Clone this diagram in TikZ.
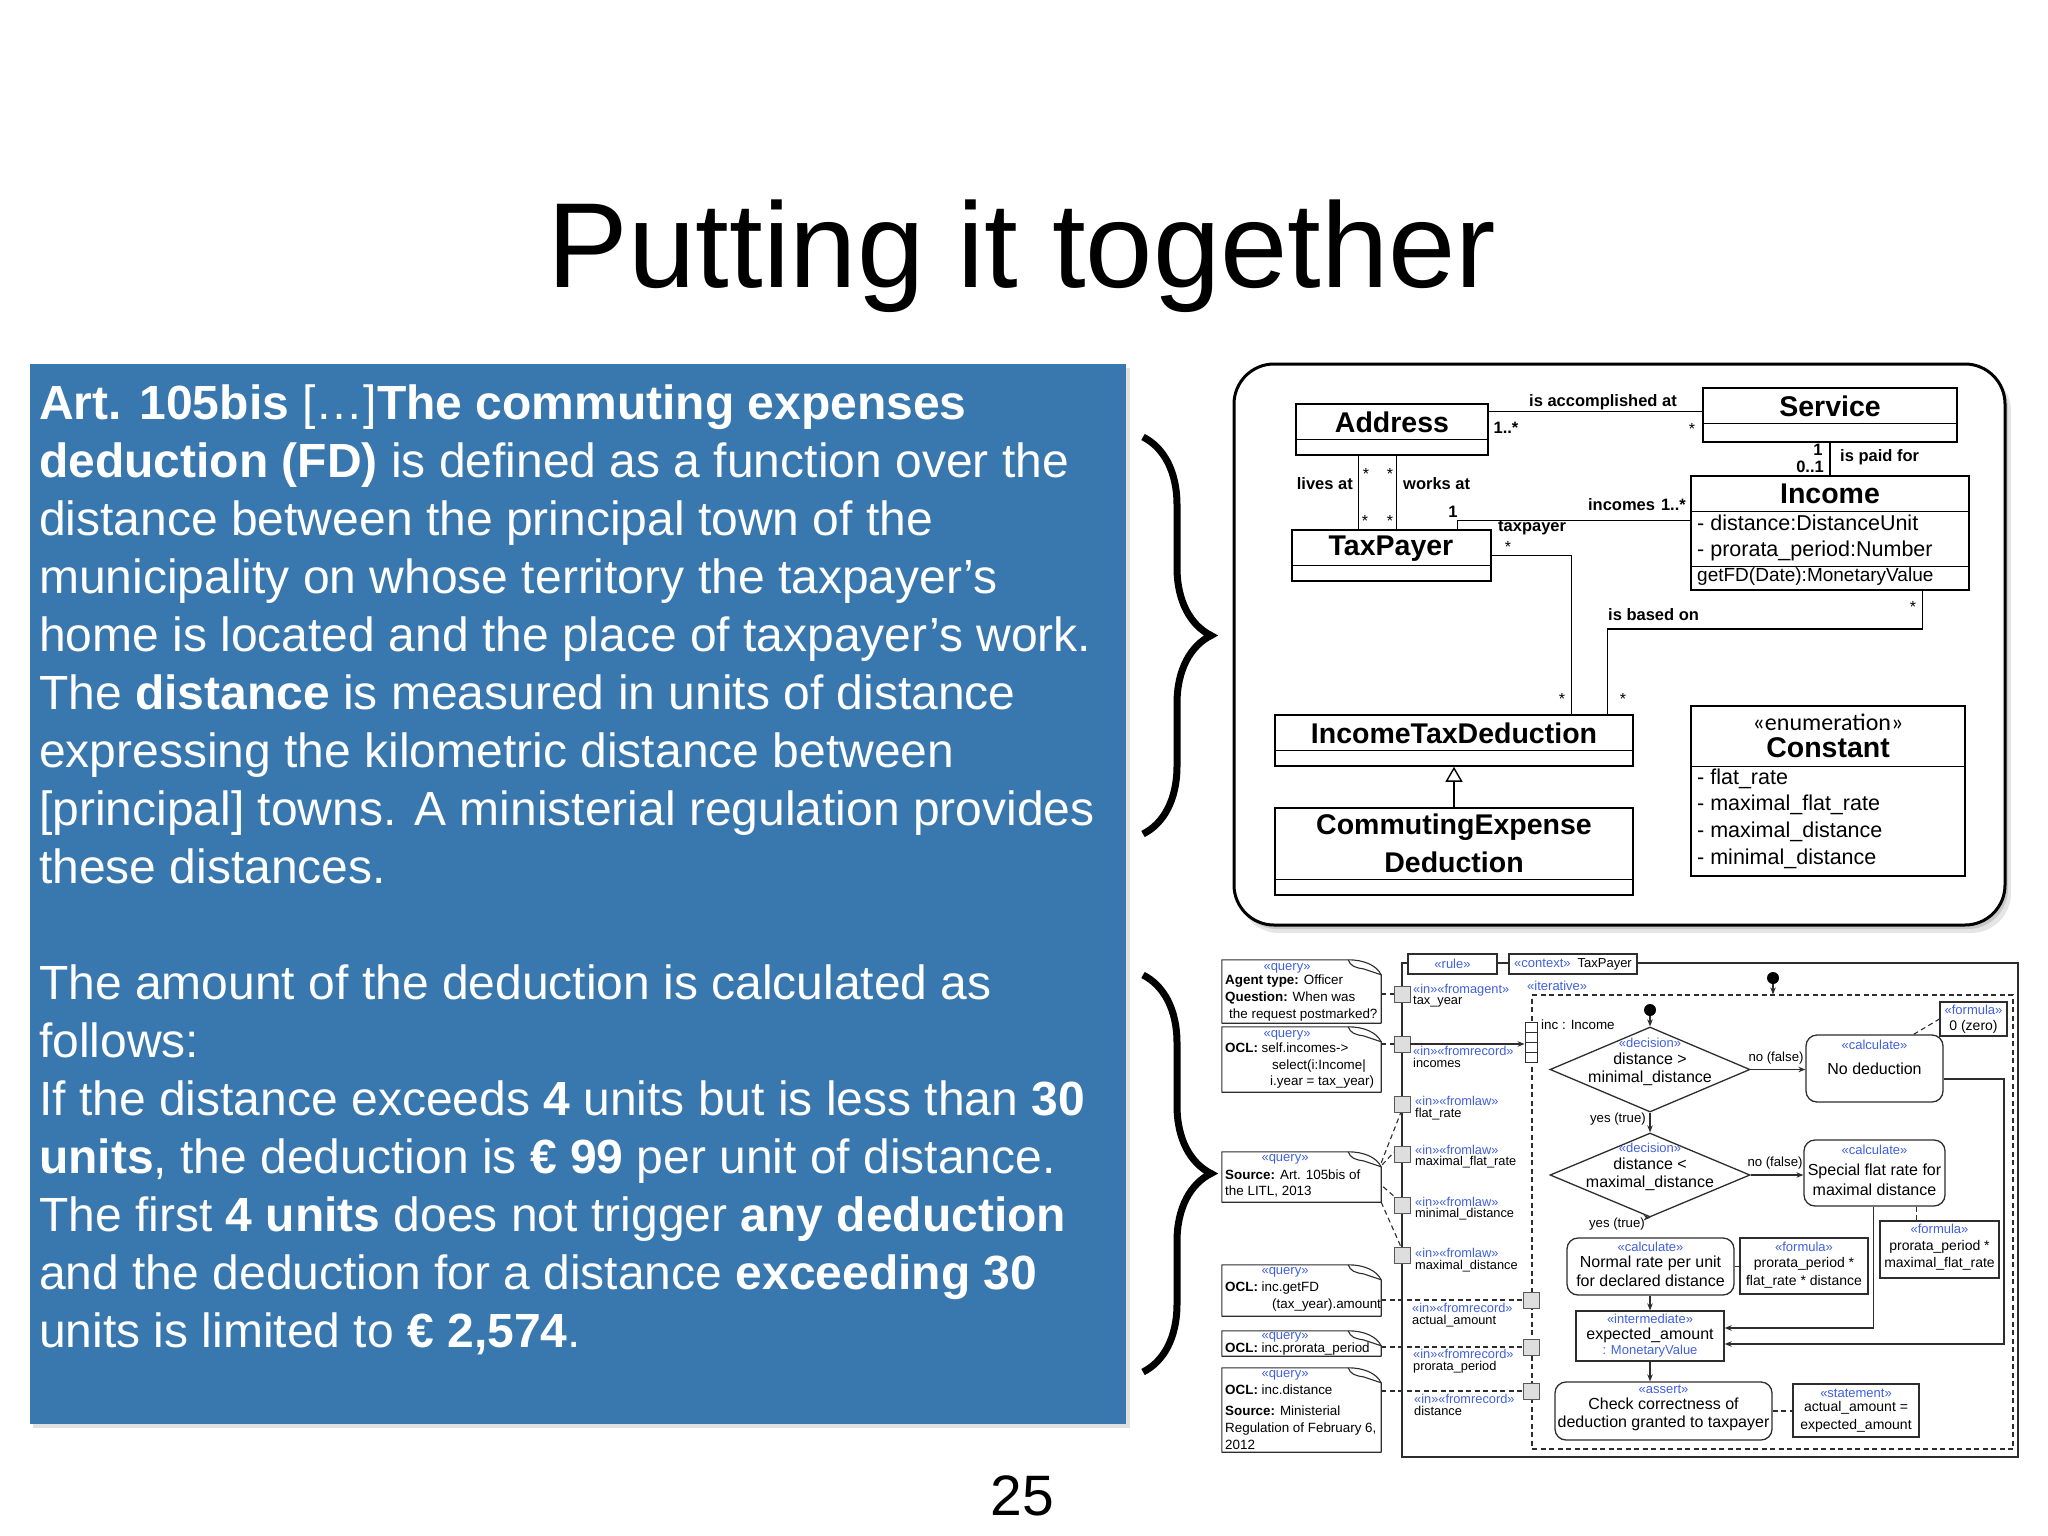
\documentclass[tikz,border=0pt]{standalone}
\usepackage{fontspec}
\setmainfont{Liberation Sans}
\newfontfamily\carlito{Carlito}
\usetikzlibrary{arrows.meta,shapes.geometric,decorations.pathreplacing,calc}
\definecolor{slideblue}{RGB}{57,119,175}
\definecolor{stblue}{RGB}{64,96,224}
\definecolor{lg}{RGB}{45,45,45}
\definecolor{pingray}{RGB}{222,222,222}
\newcommand\fsz[2]{\fontsize{#1}{#2}\selectfont}
\newcommand\bx[6]{\node[#2, minimum width={#5-#3}, minimum height={#6-#4}] (#1) at ({(#3+#5)/2},{(#4+#6)/2}) {};}
\newcommand\umlnote[5]{%
 \bx{#1}{notebg}{#2}{#3}{#4}{#5}
 \draw[notestyle] (#1.north west) -- ($(#1.north east)+(-33,0)$) .. controls ($(#1.north east)+(-18,0)$) and ($(#1.north east)+(-5,5)$) .. ($(#1.north east)+(0,15)$) -- (#1.south east) -- (#1.south west) -- cycle;
 \draw[notestyle] ($(#1.north east)+(-33,0)$) .. controls ($(#1.north east)+(-31,6)$) and ($(#1.north east)+(-26,8)$) .. ($(#1.north east)+(-18,9)$) -- ($(#1.north east)+(0,15)$);
}
\begin{document}
\begin{tikzpicture}[x=1pt,y=-1pt,
 bodyl/.style={anchor=base west, inner sep=0, text=white, font=\fsz{48}{58}},
 ubox/.style={draw=black, line width=1.6pt, fill=white, inner sep=0},
 uname/.style={inner sep=0, font=\fsz{28.5}{34}\bfseries},
 uattr/.style={inner sep=0, anchor=mid west, font=\fsz{21.5}{26}},
 ulab/.style={inner sep=0, font=\fsz{16.5}{20}\bfseries},
 ustar/.style={inner sep=0, font=\fsz{16}{20}},
 uline/.style={line width=1.4pt},
 abox/.style={draw=lg, line width=1.3pt, fill=white, inner sep=0},
 rbox/.style={abox, rounded corners=11pt},
 stt/.style={inner sep=0, text=stblue, font=\fsz{13}{15}},
 txt/.style={inner sep=0, font=\fsz{16}{19}},
 ftxt/.style={inner sep=0, font=\fsz{14}{17}},
 ntxt/.style={inner sep=0, anchor=mid west, font=\fsz{13.4}{16}},
 plab/.style={inner sep=0, anchor=mid west, font=\fsz{12.8}{14}},
 pstt/.style={plab, text=stblue},
 pinbox/.style={draw=gray!70!black, fill=pingray, line width=0.8pt, minimum size=16pt, inner sep=0},
 flowarr/.style={line width=1.2pt, draw=lg, -{Stealth[length=7pt,width=5.5pt]}},
 dashln/.style={line width=1.1pt, draw=lg, dash pattern=on 5pt off 3.5pt},
 notestyle/.style={draw=lg, line width=1.1pt, line join=round},
 notebg/.style={inner sep=0},
 elab/.style={inner sep=0, font=\fsz{13.2}{16}},
]
\useasboundingbox (0,0) rectangle (2048,1536);
\fill[white] (0,0) rectangle (2048,1536);

% title and page number
\node[anchor=base, inner sep=0, font=\fsz{121}{140}] (title) at (1022,287) {Putting it together};
\node[anchor=base, inner sep=0, font=\fsz{57}{64}] (pagenum) at (1022,1515) {25};

% blue text box
\fill[black, opacity=0.12] (33,368) rectangle (1130,1428);
\bx{bluebox}{fill=slideblue, inner sep=0}{30}{364}{1126}{1424}
\node[bodyl] (l1) at (39,419) {\textbf{Art. 105bis} […]\textbf{The commuting expenses}};
\node[bodyl] (l2) at (39,477) {\textbf{deduction (FD)} is defined as a function over the};
\node[bodyl] (l3) at (39,535) {distance between the principal town of the};
\node[bodyl] (l4) at (39,593) {municipality on whose territory the taxpayer\symbol{39}s};
\node[bodyl] (l5) at (39,651) {home is located and the place of taxpayer’s work.};
\node[bodyl] (l6) at (39,709) {The \textbf{distance} is measured in units of distance};
\node[bodyl] (l7) at (39,767) {expressing the kilometric distance between};
\node[bodyl] (l8) at (39,825) {[principal] towns. A ministerial regulation provides};
\node[bodyl] (l9) at (39,883) {these distances.};
\node[bodyl] (m1) at (39,999) {The amount of the deduction is calculated as};
\node[bodyl] (m2) at (39,1057) {follows:};
\node[bodyl] (m3) at (39,1115) {If the distance exceeds \textbf{4} units but is less than \textbf{30}};
\node[bodyl] (m4) at (39,1173) {\textbf{units}, the deduction is \textbf{€ 99} per unit of distance.};
\node[bodyl] (m5) at (39,1231) {The first \textbf{4 units} does not trigger \textbf{any deduction}};
\node[bodyl] (m6) at (39,1289) {and the deduction for a distance \textbf{exceeding 30}};
\node[bodyl] (m7) at (39,1347) {units is limited to \textbf{€ 2,574}.};

% braces
\draw[decorate, decoration={brace, amplitude=68pt, aspect=0.5}, line width=7pt] (1143,437) -- (1143,834);
\draw[decorate, decoration={brace, amplitude=68pt, aspect=0.5}, line width=7pt] (1143,975) -- (1143,1372);

% ===== UML class diagram =====
\fill[black, opacity=0.10, rounded corners=40pt] (1239,371) rectangle (2011,933);
\fill[black, opacity=0.12, rounded corners=40pt] (1237,368) rectangle (2008,929);
\bx{umlframe}{draw=black, line width=3pt, fill=white, rounded corners=40pt, inner sep=0}{1234}{364}{2005}{925}

\bx{addr}{ubox}{1296}{404}{1488}{455}
\draw[uline] ($(addr.north west)+(0,36)$) -- ($(addr.north east)+(0,36)$);
\node[uname] (addrN) at (1392,422) {Address};
\bx{tp}{ubox}{1292}{530}{1491}{581}
\draw[uline] ($(tp.north west)+(0,36)$) -- ($(tp.north east)+(0,36)$);
\node[uname] (tpN) at (1391,549) {TaxPayer};
\bx{svc}{ubox}{1703}{388}{1957}{442}
\draw[uline] ($(svc.north west)+(0,36)$) -- ($(svc.north east)+(0,36)$);
\node[uname] (svcN) at (1830,406) {Service};
\bx{inc}{ubox}{1691}{476}{1969}{590}
\draw[uline] ($(inc.north west)+(0,36)$) -- ($(inc.north east)+(0,36)$);
\draw[uline] ($(inc.north west)+(0,91)$) -- ($(inc.north east)+(0,91)$);
\node[uname] (incN) at (1830,494) {Income};
\node[uattr] (incA1) at (1697,528) {- distance:DistanceUnit};
\node[uattr] (incA2) at (1697,554) {- prorata\_period:Number};
\node[uattr, font=\fsz{19}{22}] (incO1) at (1697,579) {getFD(Date):MonetaryValue};
\bx{itd}{ubox}{1275}{715}{1633}{766}
\draw[uline] ($(itd.north west)+(0,36)$) -- ($(itd.north east)+(0,36)$);
\node[uname] (itdN) at (1454,733) {IncomeTaxDeduction};
\bx{ced}{ubox}{1275}{808}{1633}{895}
\draw[uline] ($(ced.north west)+(0,72)$) -- ($(ced.north east)+(0,72)$);
\node[uname] (cedN1) at (1454,827) {CommutingExpense};
\node[uname] (cedN2) at (1454,862) {Deduction};
\bx{cst}{ubox}{1691}{706}{1965}{876}
\draw[uline] ($(cst.north west)+(0,61)$) -- ($(cst.north east)+(0,61)$);
\node[inner sep=0, font=\carlito\fsz{24}{28}] (cstS) at (1828,722) {«enumeration»};
\node[uname] (cstN) at (1828,748) {Constant};
\node[uattr] (cst1) at (1697,782) {- flat\_rate};
\node[uattr] (cst2) at (1697,808) {- maximal\_flat\_rate};
\node[uattr] (cst3) at (1697,835) {- maximal\_distance};
\node[uattr] (cst4) at (1697,862) {- minimal\_distance};

% associations
\draw[uline] ($(addr.south west)+(63,0)$) -- ($(tp.north west)+(67,0)$);
\draw[uline] ($(addr.south west)+(101,0)$) -- ($(tp.north west)+(105,0)$);
\draw[uline] ($(addr.north east)+(0,8)$) -- ($(svc.north west)+(0,24)$);
\draw[uline] (svc.south) -- (inc.north);
\draw[uline] ($(tp.north west)+(166,0)$) |- ($(inc.north west)+(0,45)$);
\draw[uline] ($(tp.north east)+(0,26)$) -| ($(itd.north west)+(297,0)$);
\draw[uline] ($(inc.south west)+(232,0)$) -- ++(0,38) -| ($(itd.north west)+(333,0)$);
\draw[uline, -{Triangle[open, length=15pt, width=17pt]}] (ced.north) -- (itd.south);

% association labels
\node[ulab, anchor=mid east] (livesL) at (1353,487) {lives at};
\node[ulab, anchor=mid west] (worksL) at (1403,487) {works at};
\node[ustar] (s1) at (1366,474) {*};
\node[ustar] (s2) at (1390,474) {*};
\node[ustar] (s3) at (1365,521) {*};
\node[ustar] (s4) at (1390,521) {*};
\node[ulab] (accL) at (1603,402) {is accomplished at};
\node[ulab] (accM1) at (1506,428) {1..*};
\node[ustar] (accM2) at (1692,429) {*};
\node[ulab] (payM1) at (1818,450) {1};
\node[ulab] (payM2) at (1810,467) {0..1};
\node[ulab, anchor=mid west] (payL) at (1840,459) {is paid for};
\node[ulab] (incM1) at (1453,512) {1};
\node[ulab, anchor=mid west] (tpR) at (1498,529) {taxpayer};
\node[ustar] (tpM) at (1508,547) {*};
\node[ulab, anchor=mid east] (incR) at (1686,508) {incomes\hspace{6pt}1..*};
\node[ulab, anchor=mid west] (basedL) at (1608,618) {is based on};
\node[ustar] (bM1) at (1913,607) {*};
\node[ustar] (bM2) at (1562,699) {*};
\node[ustar] (bM3) at (1623,699) {*};

% ===== activity diagram =====
\bx{rulefr}{abox}{1402}{963}{2018}{1457}
\bx{iter}{draw=lg, line width=1.1pt, dash pattern=on 5pt off 3.5pt, inner sep=0}{1532}{995}{2013}{1449}
\node[abox, minimum width=89, minimum height=20, text=stblue, font=\fsz{13}{15}] (rulebox) at (1452.5,964) {«rule»};
\node[abox, minimum width=128, minimum height=20, font=\fsz{13}{15}] (ctxbox) at (1573,964) {\textcolor{stblue}{«context»}\hspace{7pt}TaxPayer};
\node[stt, anchor=mid west] (iterlab) at (1527,988) {«iterative»};

% notes
\umlnote{n1}{1222}{960}{1381}{1023}
\node[stt] (n1s) at (1287,968) {«query»};
\node[ntxt] (n1a) at (1225,982) {\textbf{Agent type:} Officer};
\node[ntxt] (n1b) at (1225,999) {\textbf{Question:} When was};
\node[ntxt] (n1c) at (1229,1016) {the request postmarked?};
\umlnote{n2}{1222}{1027}{1381}{1092}
\node[stt] (n2s) at (1287,1035) {«query»};
\node[ntxt] (n2a) at (1225,1050) {\textbf{OCL:} self.incomes->};
\node[ntxt] (n2b) at (1272,1067) {select(i:Income|};
\node[ntxt] (n2c) at (1270,1083) {i.year = tax\_year)};
\umlnote{n3}{1222}{1152}{1381}{1202}
\node[stt] (n3s) at (1285,1159) {«query»};
\node[ntxt] (n3a) at (1225,1177) {\textbf{Source:} Art. 105bis of};
\node[ntxt] (n3b) at (1225,1193) {the LITL, 2013};
\umlnote{n4}{1222}{1265}{1381}{1316}
\node[stt] (n4s) at (1285,1272) {«query»};
\node[ntxt] (n4a) at (1225,1289) {\textbf{OCL:} inc.getFD};
\node[ntxt] (n4b) at (1272,1306) {(tax\_year).amount};
\umlnote{n5}{1222}{1331}{1381}{1356}
\node[stt] (n5s) at (1285,1337) {«query»};
\node[ntxt] (n5a) at (1225,1350) {\textbf{OCL:} inc.prorata\_period};
\umlnote{n6}{1222}{1368}{1381}{1452}
\node[stt] (n6s) at (1285,1375) {«query»};
\node[ntxt] (n6a) at (1225,1392) {\textbf{OCL:} inc.distance};
\node[ntxt] (n6b) at (1225,1413) {\textbf{Source:} Ministerial};
\node[ntxt] (n6c) at (1225,1430) {Regulation of February 6,};
\node[ntxt] (n6d) at (1225,1447) {2012};

% pins (positions)
\coordinate (p1c) at (1402,994);
\coordinate (p2c) at (1402,1044);
\coordinate (p3c) at (1402,1104);
\coordinate (p4c) at (1402,1154);
\coordinate (p5c) at (1402,1205);
\coordinate (p6c) at (1402,1255);
\coordinate (q1c) at (1531,1300);
\coordinate (q2c) at (1531,1347);
\coordinate (q3c) at (1531,1391);

% note connectors
\draw[dashln] (n1.east |- p1c) -- ($(p1c)+(-8,0)$);
\draw[dashln] (n2.east |- p2c) -- ($(p2c)+(-8,0)$);
\draw[dashln] ($(n3.north east)+(0,11)$) -- ($(p3c)+(-1,8)$);
\draw[dashln] ($(n3.north east)+(1,13)$) -- ($(p4c)+(-8,-2)$);
\draw[dashln] ($(n3.north east)+(2,35)$) -- ($(p5c)+(-6,-7)$);
\draw[dashln] (n3.south east) -- ($(p6c)+(-1,-8)$);
\draw[dashln] (n4.east |- q1c) -- ($(q1c)+(-8,0)$);
\draw[dashln] (n5.east |- q2c) -- ($(q2c)+(-8,0)$);
\draw[dashln] (n6.east |- q3c) -- ($(q3c)+(-8,0)$);

\node[pinbox] (p1) at (p1c) {};
\node[pinbox] (p2) at (p2c) {};
\node[pinbox] (p3) at (p3c) {};
\node[pinbox] (p4) at (p4c) {};
\node[pinbox] (p5) at (p5c) {};
\node[pinbox] (p6) at (p6c) {};
\node[pinbox] (q1) at (q1c) {};
\node[pinbox] (q2) at (q2c) {};
\node[pinbox] (q3) at (q3c) {};

% pin labels
\node[pstt] (p1s) at (1413,991) {«in»«fromagent»};
\node[plab] (p1n) at (1413,1002) {tax\_year};
\node[pstt] (p2s) at (1413,1053) {«in»«fromrecord»};
\node[plab] (p2n) at (1413,1065) {incomes};
\node[pstt] (p3s) at (1415,1103) {«in»«fromlaw»};
\node[plab] (p3n) at (1415,1115) {flat\_rate};
\node[pstt] (p4s) at (1415,1152) {«in»«fromlaw»};
\node[plab] (p4n) at (1415,1163) {maximal\_flat\_rate};
\node[pstt] (p5s) at (1415,1204) {«in»«fromlaw»};
\node[plab] (p5n) at (1415,1215) {minimal\_distance};
\node[pstt] (p6s) at (1415,1255) {«in»«fromlaw»};
\node[plab] (p6n) at (1415,1267) {maximal\_distance};
\node[pstt] (q1s) at (1412,1310) {«in»«fromrecord»};
\node[plab] (q1n) at (1412,1322) {actual\_amount};
\node[pstt] (q2s) at (1413,1356) {«in»«fromrecord»};
\node[plab] (q2n) at (1413,1368) {prorata\_period};
\node[pstt] (q3s) at (1414,1401) {«in»«fromrecord»};
\node[plab] (q3n) at (1414,1413) {distance};

% expansion node
\node[draw=lg, fill=white, line width=0.9pt, minimum width=12pt, minimum height=10pt, inner sep=0] (ex0) at (1531,1027) {};
\node[draw=lg, fill=white, line width=0.9pt, minimum width=12pt, minimum height=10pt, inner sep=0] (ex1) at (1531,1037) {};
\node[draw=lg, fill=white, line width=0.9pt, minimum width=12pt, minimum height=10pt, inner sep=0] (ex2) at (1531,1047) {};
\node[draw=lg, fill=white, line width=0.9pt, minimum width=12pt, minimum height=10pt, inner sep=0] (ex3) at (1531,1057) {};
\draw[flowarr] (p2.east) -- (p2.east -| ex0.west);
\node[inner sep=0, anchor=mid west, font=\fsz{13.4}{16}] (inclab) at (1541,1027) {inc : Income};

% initial nodes
\node[circle, fill=black, minimum size=12pt, inner sep=0] (init1) at (1773,978) {};
\node[circle, fill=black, minimum size=12pt, inner sep=0] (init2) at (1650,1010) {};
\draw[flowarr] (init1) -- (init1 |- iter.north);

% decisions
\node[diamond, draw=lg, line width=1.3pt, fill=white, minimum width=200pt, minimum height=85pt, inner sep=0] (d1) at (1650,1069.5) {};
\node[stt] (d1s) at (1650,1043) {«decision»};
\node[txt] (d1a) at (1650,1059) {distance >};
\node[txt] (d1b) at (1650,1078) {minimal\_distance};
\node[diamond, draw=lg, line width=1.3pt, fill=white, minimum width=200pt, minimum height=84pt, inner sep=0] (d2) at (1650,1175) {};
\node[stt] (d2s) at (1650,1148) {«decision»};
\node[txt] (d2a) at (1650,1164) {distance <};
\node[txt] (d2b) at (1650,1183) {maximal\_distance};
\draw[flowarr] (init2) -- (d1.north);

% actions
\bx{nod}{rbox}{1806}{1035}{1943}{1102}
\node[stt] (nods) at (1874.5,1045) {«calculate»};
\node[txt] (noda) at (1874.5,1069) {No deduction};
\bx{f0}{abox}{1940}{1002}{2007}{1036}
\node[stt] (f0s) at (1973.5,1010) {«formula»};
\node[ftxt] (f0a) at (1973.5,1027) {0 (zero)};
\bx{sp}{rbox}{1804}{1140}{1945}{1206}
\node[stt] (sps) at (1874.5,1150) {«calculate»};
\node[txt] (spa) at (1874.5,1171) {Special flat rate for};
\node[txt] (spb) at (1874.5,1190) {maximal distance};
\bx{fs}{abox}{1880}{1221}{1999}{1278}
\node[stt] (fss) at (1939.5,1229) {«formula»};
\node[ftxt] (fsa) at (1939.5,1247) {prorata\_period *};
\node[ftxt] (fsb) at (1939.5,1264) {maximal\_flat\_rate};
\bx{nrm}{rbox}{1567}{1238}{1734}{1295}
\node[stt] (nrms) at (1650.5,1247) {«calculate»};
\node[txt] (nrma) at (1650.5,1263) {Normal rate per unit};
\node[txt] (nrmb) at (1650.5,1281) {for declared distance};
\bx{fn}{abox}{1740}{1238}{1868}{1294}
\node[stt] (fns) at (1804,1247) {«formula»};
\node[ftxt] (fna) at (1804,1264) {prorata\_period *};
\node[ftxt] (fnb) at (1804,1282) {flat\_rate * distance};
\bx{expd}{abox}{1576}{1311}{1724}{1361}
\node[stt] (expds) at (1650,1319) {«intermediate»};
\node[txt] (expda) at (1650,1335) {expected\_amount};
\node[stt] (expdb) at (1650,1351) {: MonetaryValue};
\bx{asr}{rbox}{1555}{1382}{1772}{1440}
\node[stt] (asrs) at (1663.5,1389) {«assert»};
\node[txt] (asra) at (1663.5,1404) {Check correctness of};
\node[txt] (asrb) at (1663.5,1423) {deduction granted to taxpayer};
\bx{stm}{abox}{1793}{1384}{1919}{1437}
\node[stt] (stms) at (1856,1393) {«statement»};
\node[ftxt] (stma) at (1856,1408) {actual\_amount =};
\node[ftxt] (stmb) at (1856,1426) {expected\_amount};

% control flows
\draw[flowarr] (d1.east) -- (nod.west |- d1.east);
\node[elab] (nf1) at (1776,1058) {no (false)};
\draw[flowarr] (d1.south) -- (d2.north);
\node[elab, anchor=mid east] (yt1) at (1646,1120) {yes (true)};
\draw[flowarr] (d2.east) -- (sp.west |- d2.east);
\node[elab] (nf2) at (1775,1163) {no (false)};
\draw[flowarr] (d2.south) -- (d2.south -| nrm.north);
\node[elab, anchor=mid east] (yt2) at (1645,1225) {yes (true)};
\draw[flowarr] (nrm.south -| expd.north) -- (expd.north);
\draw[flowarr] (expd.south) -- (expd.south |- asr.north);
\draw[flowarr] ($(sp.south west)+(70,0)$) |- ($(expd.east)+(0,-8)$);
\coordinate (ndc) at (2004,1344);
\draw[flowarr] ($(nod.east)+(0,10.5)$) -| (ndc) -- ($(expd.east)+(0,8)$);

% formula / statement links
\draw[dashln] ($(nod.north east)+(-30,0)$) -- (f0.west);
\draw[dashln] ($(sp.south west)+(113,0)$) -- ($(fs.north west)+(37,0)$);
\draw[dashln] (nrm.east) -- (fn.west |- nrm.east);
\draw[dashln] (asr.east) -- (stm.west |- asr.east);
\end{tikzpicture}
\end{document}
